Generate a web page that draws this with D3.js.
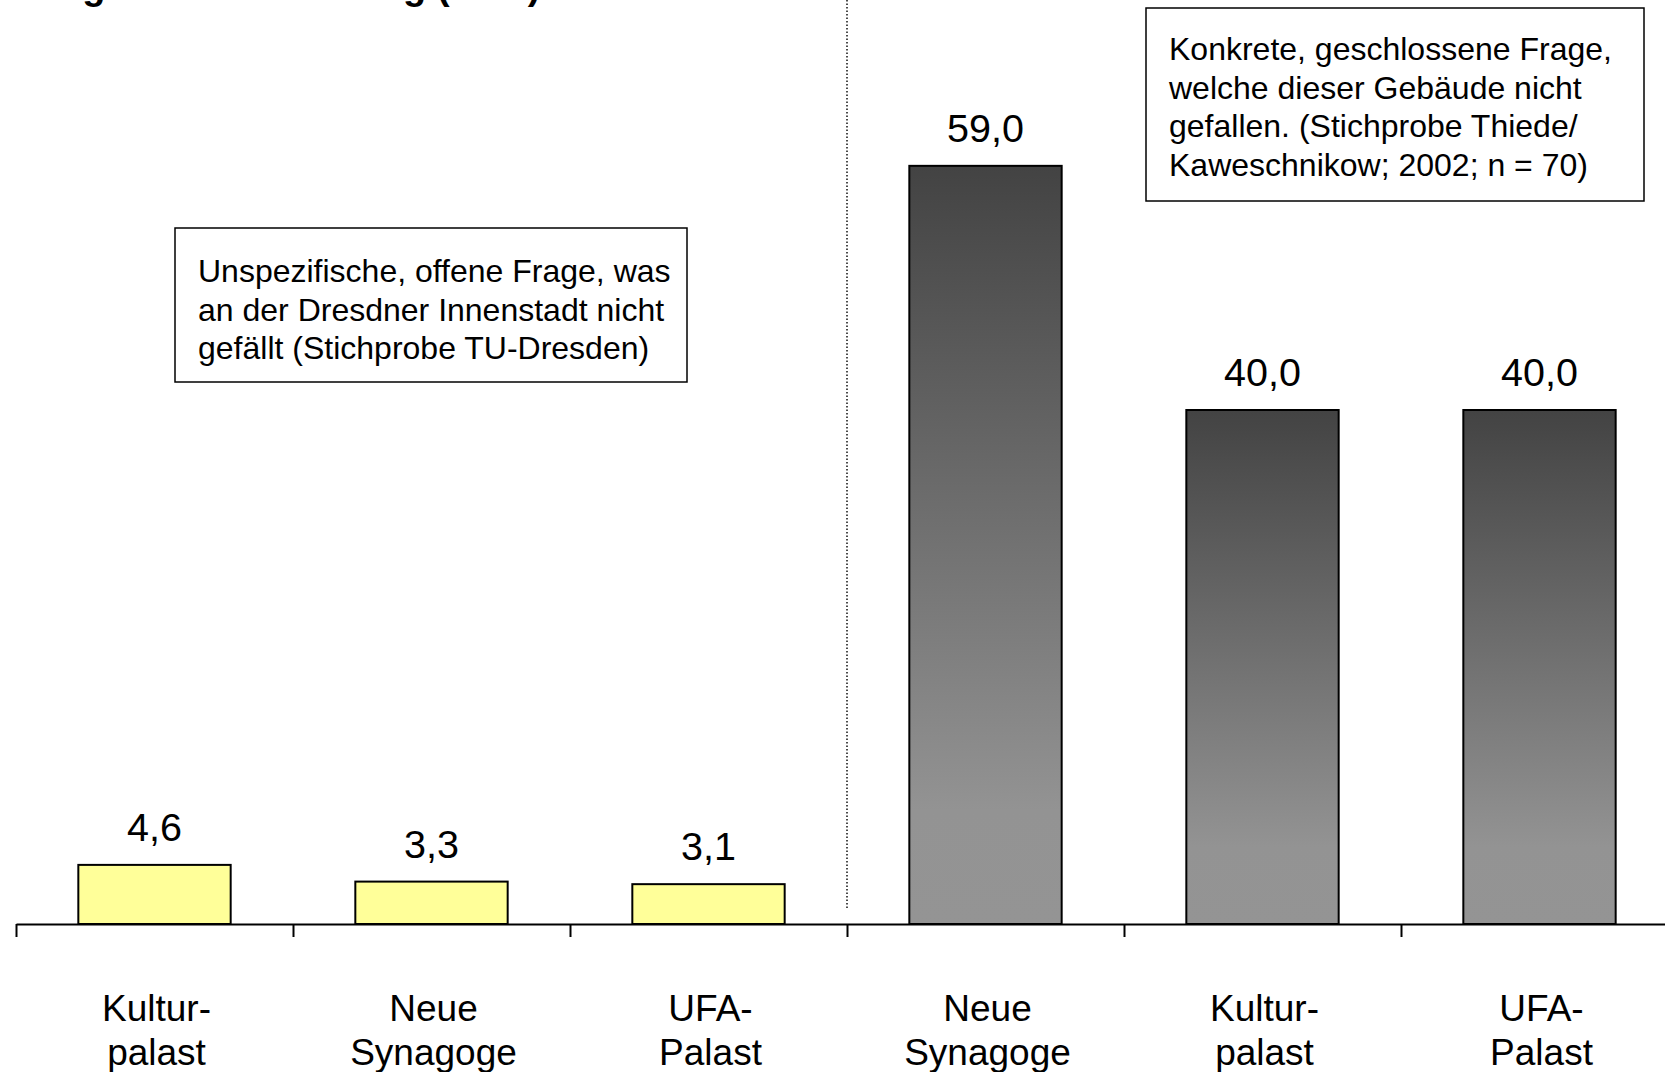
<!DOCTYPE html>
<html>
<head>
<meta charset="utf-8">
<script src="https://cdn.jsdelivr.net/npm/d3@7"></script>
<style>
  body { margin: 0; background: #fff; }
  svg { display: block; font-family: Arial, "Liberation Sans", sans-serif; }
</style>
</head>
<body>
<div id="container"></div>
<script>
// data
var categories = [['Kultur-', 'palast'], ['Neue', 'Synagoge'], ['UFA-', 'Palast'],
                  ['Neue', 'Synagoge'], ['Kultur-', 'palast'], ['UFA-', 'Palast']];
var values = [4.6, 3.3, 3.1, 59.0, 40.0, 40.0];
var groups = ['offen', 'offen', 'offen', 'geschlossen', 'geschlossen', 'geschlossen'];
var notes = [
  ['Unspezifische, offene Frage, was', 'an der Dresdner Innenstadt nicht', 'gefällt (Stichprobe TU-Dresden)'],
  ['Konkrete, geschlossene Frage,', 'welche dieser Gebäude nicht', 'gefallen. (Stichprobe Thiede/', 'Kaweschnikow; 2002; n = 70)']
];
var title = 'Ablehnung in der Bewertung (in %)';

var width = 1665,
	height = 1072;

var step = 277, left = 16, base = 924;

var de = d3.formatLocale({ decimal: ',', thousands: '.', grouping: [3], currency: ['', ' €'] });
var fmt = de.format('.1f');

var svg = d3.select('#container').append('svg')
			.attr('width', width)
			.attr('height', height);

var defs = svg.append('defs');
var grad = defs.append('linearGradient')
			.attr('id', 'grau')
			.attr('x1', 0).attr('y1', 0)
			.attr('x2', 0).attr('y2', 1);
grad.append('stop').attr('offset', '0').attr('stop-color', '#434343');
grad.append('stop').attr('offset', '0.85').attr('stop-color', '#939393');
grad.append('stop').attr('offset', '1').attr('stop-color', '#949494');

var xScale = d3.scaleBand()
			.domain(d3.range(values.length))
			.range([left, left + step * values.length])
			.paddingInner(0.45)
			.paddingOuter(0.225);

// boundaries between the categories, for the tick marks
var edge = d3.scaleLinear()
			.domain([0, values.length])
			.range([left, left + step * values.length]);

var yScale = d3.scaleLinear()
			.domain([0, 70])
			.range([base, base - 12.85 * 70]);

// title, cut off by the top edge as in the original
svg.append('text')
	.attr('x', -93)
	.attr('y', -1)
	.attr('font-size', 38)
	.attr('font-weight', 'bold')
	.text(title);

// dotted separator between the two surveys
svg.append('line')
	.attr('x1', edge(3)).attr('x2', edge(3))
	.attr('y1', 0).attr('y2', base - 14)
	.attr('stroke', '#111')
	.attr('stroke-width', 1.5)
	.attr('stroke-dasharray', '1.5,2');

svg.selectAll('rect.bar')
	.data(values)
	.enter()
		.append('rect')
		.attr('class', 'bar')
		.attr('x', (d, i) => xScale(i))
		.attr('width', xScale.bandwidth())
		.attr('y', (d) => yScale(d))
		.attr('height', (d) => yScale(0) - yScale(d))
		.attr('fill', (d, i) => groups[i] == 'offen' ? '#ffff99' : 'url(#grau)')
		.attr('stroke', '#000')
		.attr('stroke-width', 2);

svg.selectAll('text.val')
	.data(values)
	.enter()
		.append('text')
		.attr('class', 'val')
		.attr('x', (d, i) => xScale(i) + xScale.bandwidth() / 2)
		.attr('y', (d) => yScale(d) - 24)
		.attr('text-anchor', 'middle')
		.attr('font-size', 39.5)
		.text((d) => fmt(d));

var axis = d3.axisBottom(edge)
			.tickValues(d3.range(values.length + 1))
			.tickSize(13)
			.tickSizeOuter(0)
			.tickFormat('');

var g = svg.append('g')
			.attr('transform', 'translate(0,' + base + ')')
			.call(axis);
g.select('.domain').attr('stroke', '#000').attr('stroke-width', 2);
g.selectAll('.tick line').attr('stroke', '#000').attr('stroke-width', 2);

svg.selectAll('text.cat')
	.data(categories)
	.enter()
		.append('text')
		.attr('class', 'cat')
		.attr('x', (d, i) => xScale(i) + xScale.bandwidth() / 2 + 2)
		.attr('y', 1021)
		.attr('text-anchor', 'middle')
		.attr('font-size', 37)
		.selectAll('tspan')
		.data((d) => d)
		.enter()
			.append('tspan')
			.attr('x', function() { return this.parentNode.getAttribute('x'); })
			.attr('dy', (d, i) => i ? 44 : 0)
			.text((d) => d);

// the two note boxes
var boxes = [
	{ x: 175, y: 228, w: 512, h: 154, tx: 198, ty: 282 },
	{ x: 1146, y: 8, w: 498, h: 193, tx: 1169, ty: 60 }
];

boxes.forEach((b, k) => {
	svg.append('rect')
		.attr('x', b.x).attr('y', b.y)
		.attr('width', b.w).attr('height', b.h)
		.attr('fill', '#fff')
		.attr('stroke', '#000')
		.attr('stroke-width', 1.5);
	svg.append('g').selectAll('text')
		.data(notes[k])
		.enter()
			.append('text')
			.attr('x', b.tx)
			.attr('y', (d, i) => b.ty + i * 38.5)
			.attr('font-size', 32)
			.text((d) => d);
});
</script>
</body>
</html>
